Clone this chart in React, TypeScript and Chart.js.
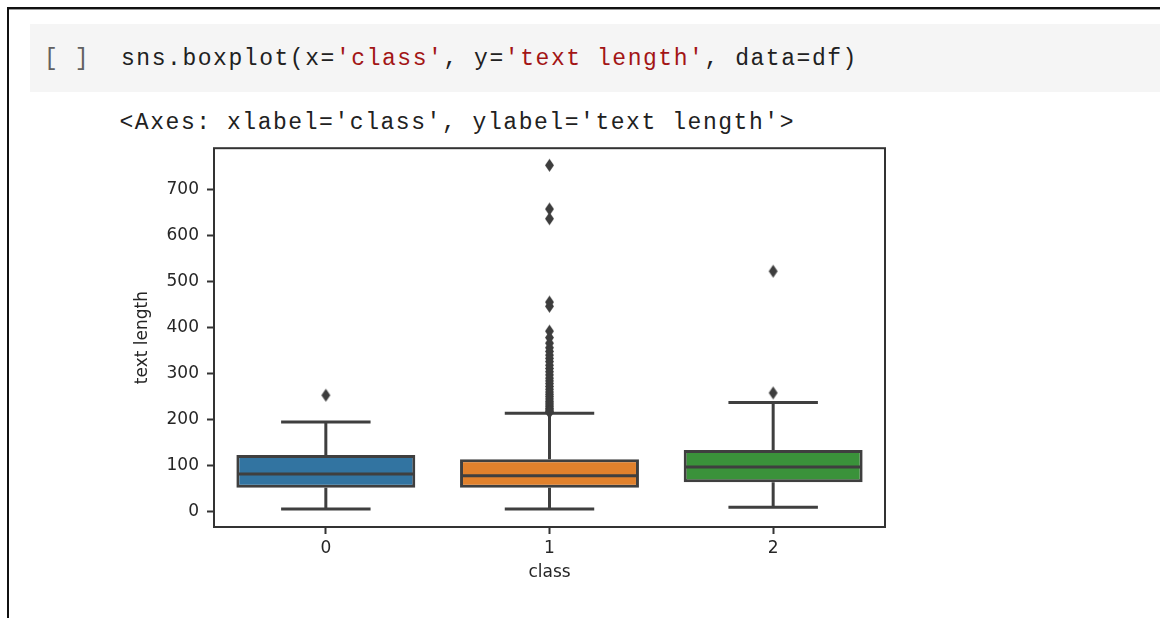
import React, { useEffect, useRef } from "react";
import { Chart, registerables } from "chart.js";

Chart.register(...registerables);

// ---- data ----
const categories = ["0", "1", "2"];
const q1Values = [52, 52, 64];
const medianValues = [82, 78, 97];
const q3Values = [123, 114, 134];
const lowerWhiskers = [6, 6, 10];
const upperWhiskers = [195, 214, 237];
const outliers0 = [253];
const outliers1 = [
  752, 657, 636, 455, 446, 392, 378, 366, 356, 348, 340, 333, 326, 318, 311,
  304, 297, 290, 284, 278, 272, 266, 260, 255, 250, 245, 240, 236, 232, 228,
  224, 221, 218, 216,
];
const outliers2 = [258, 522];
const yTickValues = [0, 100, 200, 300, 400, 500, 600, 700];
const yMin = -33;
const yMax = 789;

const boxColors = ["#3274a1", "#e1812c", "#3a923a"];
const LINE = "#3f3f3f";
const TEXT = "#262626";

const outlierSets = [outliers0, outliers1, outliers2];

function makeDiamond(): HTMLCanvasElement {
  const c = document.createElement("canvas");
  c.width = 11;
  c.height = 15;
  const g = c.getContext("2d")!;
  g.fillStyle = "#3d3d3d";
  g.beginPath();
  g.moveTo(5.5, 1);
  g.lineTo(10, 7.5);
  g.lineTo(5.5, 14);
  g.lineTo(1, 7.5);
  g.closePath();
  g.fill();
  return c;
}

const boxPartsPlugin = {
  id: "boxParts",
  afterDatasetDraw(chart: any, args: any) {
    if (args.index !== 1) return;
    const { ctx } = chart;
    const x = chart.scales.x;
    const y = chart.scales.y;
    const meta = chart.getDatasetMeta(1);
    ctx.save();
    ctx.strokeStyle = LINE;
    ctx.lineWidth = 3;
    ctx.lineCap = "butt";
    categories.forEach((_c, i) => {
      const el = meta.data[i];
      const cx = x.getPixelForValue(i);
      const half = el.width / 2;
      const capHalf = half / 2;
      const yMed = y.getPixelForValue(medianValues[i]);
      const yQ1 = y.getPixelForValue(q1Values[i]);
      const yQ3 = y.getPixelForValue(q3Values[i]);
      const yLo = y.getPixelForValue(lowerWhiskers[i]);
      const yHi = y.getPixelForValue(upperWhiskers[i]);
      ctx.beginPath();
      // whiskers
      ctx.moveTo(cx, yQ3);
      ctx.lineTo(cx, yHi);
      ctx.moveTo(cx, yQ1);
      ctx.lineTo(cx, yLo);
      // caps
      ctx.moveTo(cx - capHalf, yHi);
      ctx.lineTo(cx + capHalf, yHi);
      ctx.moveTo(cx - capHalf, yLo);
      ctx.lineTo(cx + capHalf, yLo);
      // median
      ctx.moveTo(cx - half + 1.5, yMed);
      ctx.lineTo(cx + half - 1.5, yMed);
      ctx.stroke();
    });
    ctx.restore();
  },
  afterDraw(chart: any) {
    const { ctx, chartArea } = chart;
    ctx.save();
    ctx.strokeStyle = "#333333";
    ctx.lineWidth = 2;
    ctx.strokeRect(
      chartArea.left,
      chartArea.top,
      chartArea.right - chartArea.left,
      chartArea.bottom - chartArea.top
    );
    ctx.restore();
  },
};

export default function App() {
  const ref = useRef<HTMLCanvasElement>(null);

  useEffect(() => {
    if (!ref.current) return;
    const diamond = makeDiamond();
    const scatterData: { x: string; y: number }[] = [];
    outlierSets.forEach((arr, i) =>
      arr.forEach((v) => scatterData.push({ x: categories[i], y: v }))
    );
    const boxData = categories.map((_c, i) => [q1Values[i], q3Values[i]]);

    const chart = new Chart(ref.current, {
      type: "bar",
      data: {
        labels: categories,
        datasets: [
          {
            type: "scatter",
            label: "outliers",
            data: scatterData as any,
            pointStyle: diamond as any,
            pointRadius: 5,
            pointHoverRadius: 5,
            showLine: false,
          } as any,
          {
            type: "bar",
            label: "boxes",
            data: boxData as any,
            backgroundColor: boxColors,
            borderColor: LINE,
            borderWidth: 3,
            borderSkipped: false,
            barPercentage: 0.8,
            categoryPercentage: 1.0,
          } as any,
        ],
      },
      options: {
        animation: false,
        responsive: false,
        events: [],
        layout: { padding: { top: 17, right: 15, left: 0, bottom: 0 } },
        plugins: {
          legend: { display: false },
          tooltip: { enabled: false },
        },
        scales: {
          x: {
            type: "category",
            offset: true,
            grid: {
              display: true,
              offset: false,
              drawOnChartArea: false,
              drawTicks: true,
              tickLength: 7,
              tickColor: "#333333",
              tickWidth: 2,
            },
            border: { display: false },
            ticks: {
              color: TEXT,
              padding: 4,
              font: { family: "DejaVu Sans", size: 17 },
            },
            title: {
              display: true,
              text: "class",
              color: TEXT,
              font: { family: "DejaVu Sans", size: 17 },
              padding: { top: 0, bottom: 17 },
            },
            afterFit: (s: any) => {
              s.height = 73;
            },
          },
          y: {
            type: "linear",
            min: yMin,
            max: yMax,
            grid: {
              display: true,
              drawOnChartArea: false,
              drawTicks: true,
              tickLength: 7,
              tickColor: "#333333",
              tickWidth: 2,
            },
            border: { display: false },
            ticks: {
              color: TEXT,
              padding: 8,
              includeBounds: false,
              font: { family: "DejaVu Sans", size: 17 },
            },
            afterBuildTicks: (s: any) => {
              s.ticks = yTickValues.map((v) => ({ value: v }));
            },
            title: {
              display: true,
              text: "text length",
              color: TEXT,
              font: { family: "DejaVu Sans", size: 17 },
              padding: { top: 32, bottom: 0 },
            },
            afterFit: (s: any) => {
              s.width = 114;
            },
          },
        },
      },
      plugins: [boxPartsPlugin],
    } as any);

    return () => chart.destroy();
  }, []);

  const mono: React.CSSProperties = {
    position: "absolute",
    fontFamily: '"Liberation Mono", monospace',
    fontSize: 23,
    letterSpacing: "1.55px",
    lineHeight: "26px",
    whiteSpace: "pre",
    color: "#212121",
  };
  const red = "#a31515";

  return (
    <div
      style={{
        position: "relative",
        width: 1160,
        height: 618,
        background: "#ffffff",
        overflow: "hidden",
      }}
    >
      <style>{`html,body{margin:0;padding:0;overflow:hidden;background:#fff}`}</style>
      {/* outer frame */}
      <div style={{ position: "absolute", left: 7, top: 7, width: 1153, height: 2, background: "#111" }} />
      <div style={{ position: "absolute", left: 7, top: 9, width: 1153, height: 1, background: "#9a9a9a" }} />
      <div style={{ position: "absolute", left: 7, top: 7, width: 2, height: 611, background: "#111" }} />
      {/* code cell band */}
      <div style={{ position: "absolute", left: 30, top: 24, width: 1130, height: 68, background: "#f5f5f5" }} />
      <div style={{ ...mono, left: 44, top: 46, color: "#616161" }}>[ ]</div>
      <div style={{ ...mono, left: 121, top: 46 }}>
        sns.boxplot(x=<span style={{ color: red }}>'class'</span>, y=
        <span style={{ color: red }}>'text length'</span>, data=df)
      </div>
      <div style={{ ...mono, left: 119.5, top: 110 }}>
        {"<Axes: xlabel='class', ylabel='text length'>"}
      </div>
      <canvas
        ref={ref}
        width={800}
        height={470}
        style={{ position: "absolute", left: 100, top: 130, width: 800, height: 470 }}
      />
    </div>
  );
}
